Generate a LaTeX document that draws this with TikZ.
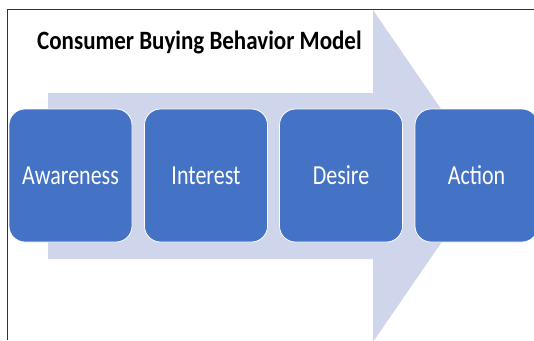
\documentclass[tikz,border=0pt]{standalone}
\usepackage{fontspec}
\setmainfont{Carlito}
\begin{document}
\begin{tikzpicture}[x=1pt,y=-1pt,
  stage/.style={rounded corners=16pt, fill=stageblue, draw=white, line width=0.8pt,
    minimum width=123pt, minimum height=133pt, inner sep=0pt, text=white,
    font=\fontsize{22}{26}\selectfont},
  frameline/.style={draw=framegray, line width=1.8pt}]
\definecolor{stageblue}{HTML}{4472C4}
\definecolor{arrowfill}{HTML}{CFD5EA}
\definecolor{framegray}{HTML}{333333}
\useasboundingbox (0,0) rectangle (534,340);
\fill[white] (0,0) rectangle (534,340);
% big arrow
\fill[arrowfill] (48,93) -- (373,93) -- (373,10) -- (487,176) -- (373,342) -- (373,259) -- (48,259) -- cycle;
% frame
\draw[frameline] (7.5,340) -- (7.5,9.5) -- (534,9.5);
% title
\node[anchor=west, inner sep=0pt, font=\bfseries\fontsize{23}{27}\selectfont] (title) at (37,42) {\scalebox{1}[1.15]{Consumer Buying Behavior Model}};
% stages
\node[stage] (aw) at (70.5,175.5) {\scalebox{1}[1.25]{Awareness}};
\node[stage] (in) at (206,175.5) {\scalebox{1}[1.25]{Interest}};
\node[stage] (de) at (341,175.5) {\scalebox{1}[1.25]{Desire}};
\node[stage] (ac) at (476.5,175.5) {\scalebox{1}[1.25]{Action}};
\end{tikzpicture}
\end{document}
